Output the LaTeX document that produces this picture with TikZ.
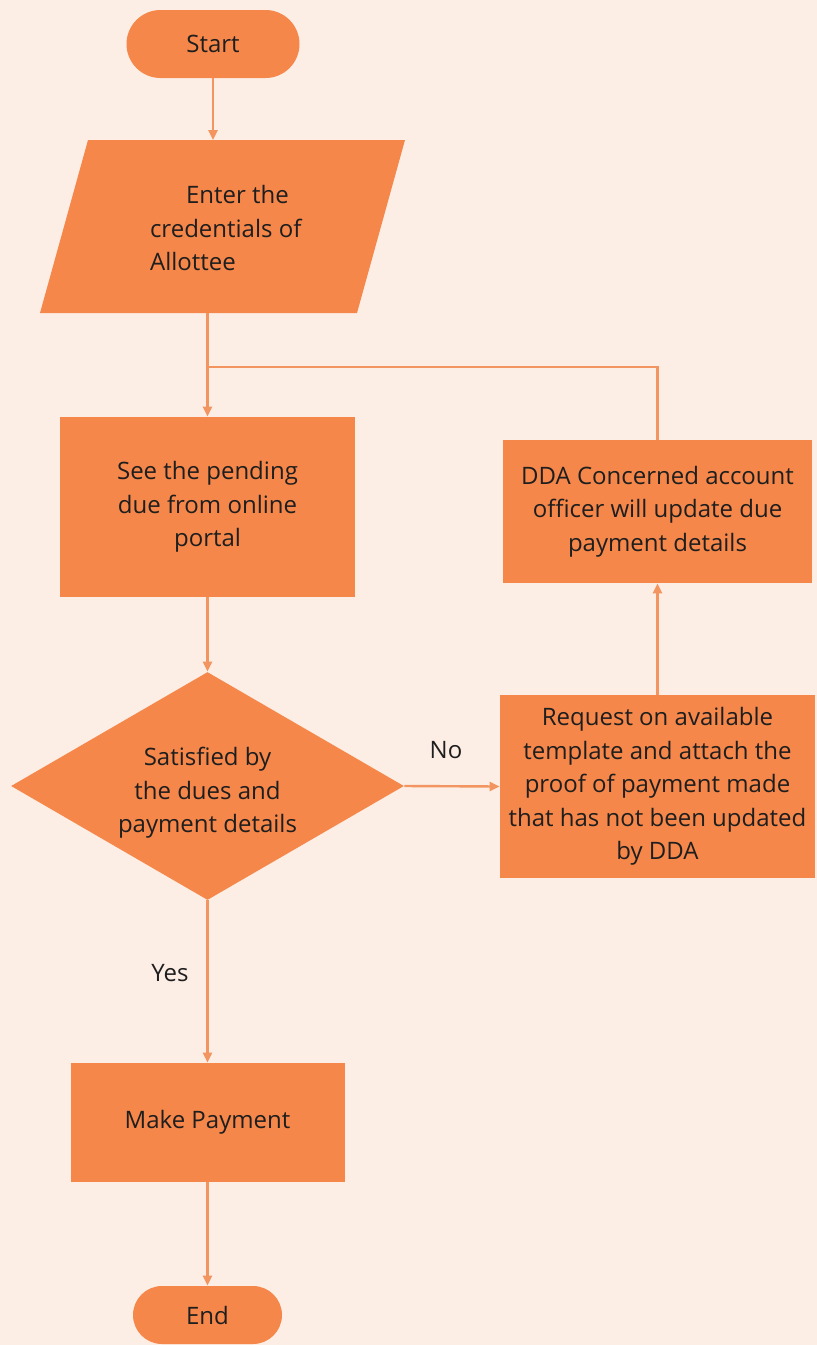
\documentclass[tikz,border=0pt]{standalone}
\usepackage{fontspec}
\setmainfont{Open Sans}
\usetikzlibrary{shapes.geometric,arrows.meta}
\definecolor{bgclr}{HTML}{FDEEE5}
\definecolor{boxfill}{HTML}{F5874A}
\definecolor{lineclr}{HTML}{F39560}
\definecolor{txtclr}{HTML}{1E1E1E}
\begin{document}
\begin{tikzpicture}[x=0.5pt,y=-0.5pt,
  every node/.style={font=\fontsize{12}{16.75}\selectfont, text=txtclr},
  term/.style={fill=boxfill, rounded corners=14.5pt, inner sep=0pt},
  proc/.style={fill=boxfill, align=center, inner sep=0pt},
  decision/.style={shape=diamond, fill=boxfill, inner sep=0pt},
  conn/.style={draw=lineclr, line width=1.2pt, -{Triangle[length=5pt,width=4.5pt]}},
  plain/.style={draw=lineclr, line width=1.2pt}]
\fill[bgclr] (0,0) rectangle (817,1345);
\useasboundingbox (0,0) rectangle (817,1345);

% Start
\node[term, rounded corners=17pt, minimum width=86.5pt, minimum height=34pt] (start) at (213,44) {Start};

% Parallelogram (input)
\fill[boxfill] (88,140) -- (405,140) -- (357,313) -- (40,313) -- cycle;
\coordinate (partop) at (213,140);
\coordinate (parbot) at (207.5,313);
\node[anchor=west, align=left] (par) at (143,228) {\hspace{18pt}Enter the\\credentials of\\Allottee};

% Pending box
\node[proc, minimum width=147.5pt, minimum height=90pt] (pend) at (207.5,507) {See the pending\\due from online\\portal};

% Decision
\node[decision, minimum width=196.5pt, minimum height=114pt] (dec) at (207.5,786) {};
\node[align=center] (dectext) at (207.5,793) {Satisfied by\\the dues and\\payment details};

% Request box
\node[proc, minimum width=157.5pt, minimum height=91.5pt] (req) at (657.5,786.5) {Request on available\\template and attach the\\proof of payment made\\that has not been updated\\by DDA};

% DDA box
\node[proc, minimum width=154.5pt, minimum height=71.5pt] (dda) at (657.5,511.5) {DDA Concerned account\\officer will update due\\payment details};

% Make payment
\node[proc, minimum width=137pt, minimum height=59.5pt] (pay) at (207.5,1122.5) {Make Payment};

% End
\node[term, minimum width=74.5pt, minimum height=29pt] (end) at (207.5,1315) {End};

% Junction
\coordinate (j) at (207.5,367);
\coordinate (jr) at (657.5,367);

% Connectors
\draw[conn] (start.south) -- (partop);
\draw[plain] (parbot) -- (j);
\draw[conn] (j) -- (pend.north);
\draw[plain] (dda.north) -- (jr) -- (j);
\draw[conn] (pend.south) -- (dec.north);
\draw[conn] (dec.east) -- node[above, yshift=10pt, xshift=-3pt] (nolbl) {No} (req.west);
\draw[conn] (req.north) -- (dda.south);
\draw[conn] (dec.south) -- (pay.north);
\node (yeslbl) at (170,973) {Yes};
\draw[conn] (pay.south) -- (end.north);
\end{tikzpicture}
\end{document}
